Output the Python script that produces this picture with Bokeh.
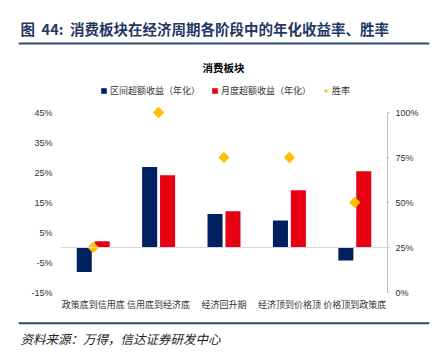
from bokeh.plotting import figure
from bokeh.layouts import column
from bokeh.models import (ColumnDataSource, FactorRange, Range1d, LinearAxis, FixedTicker,
                          PrintfTickFormatter, Span, Label, Legend, LegendItem)
from bokeh.transform import dodge
from bokeh.embed import file_html
from bokeh.resources import INLINE
import math

categories = ["政策底到信用底", "信用底到经济底", "经济回升期", "经济顶到价格顶", "价格顶到政策底"]
interval_excess = [-8.2, 26.8, 11.2, 9.0, -4.3]   # 区间超额收益（年化）, %
monthly_excess = [2.1, 24.1, 12.1, 19.1, 25.4]    # 月度超额收益（年化）, %
win_rate = [25, 100, 75, 75, 50]                   # 胜率, %
left_ticks = [-15, -5, 5, 15, 25, 35, 45]
right_ticks = [0, 25, 50, 75, 100]

BLUE = "#002060"
RED = "#E60012"
YELLOW = "#FFC000"
CJK = "Noto Sans CJK SC"
LINE = "#2E4A72"

W = 440
HEAD_H, MAIN_H, FOOT_H = 50, 266, 37
BL, BR = 18, 429    # x extent of the header/footer rules


def blank(h):
    f = figure(width=W, height=h, x_range=Range1d(0, BR - BL), y_range=Range1d(0, h),
               x_axis_type=None, y_axis_type=None,
               output_backend="svg", toolbar_location=None, frame_align=False,
               min_border_left=BL, min_border_right=W - BR,
               min_border_top=0, min_border_bottom=0)
    f.grid.visible = False
    f.outline_line_color = None
    return f


def lab(fig, text, x, y_from_top, h, size, color="#000000", style="normal", align="left", font=CJK):
    fig.add_layout(Label(x=x - BL, y=h - y_from_top, x_units="screen", y_units="screen", text=text,
                         text_font=font, text_font_size=size, text_color=color,
                         text_font_style=style, text_align=align, text_baseline="middle"))


def hline(fig, y_from_top, h):
    fig.add_layout(Span(location=h - y_from_top, dimension="width",
                        line_color=LINE, line_width=2))


NB = "\u00a0"

# ---------- header ----------
head = blank(HEAD_H)
lab(head, "图" + NB * 2 + "44:" + NB * 2 + "消费板块在经济周期各阶段中的年化收益率、胜率",
    20, 28, HEAD_H, "14.5px", "#1F3864", "bold")
hline(head, 43, HEAD_H)

# ---------- main chart ----------
src = ColumnDataSource(dict(cat=categories, a=interval_excess, m=monthly_excess, w=win_rate))

TOP = 50            # canvas y of main figure top
FL, FR = 60, 387    # frame left/right (canvas x)
FT, FB = 55, 292    # frame top/bottom (canvas y)
PX_L = 3.0          # px per 1% on left axis
PX_R = 1.8          # px per 1% on right axis
left_top = -15 + (FB - FT) / PX_L
right_top = (FB - FT) / PX_R

p = figure(width=W, height=MAIN_H, x_range=FactorRange(*categories), y_range=Range1d(-15, left_top),
           output_backend="svg", toolbar_location=None, frame_align=False,
           min_border_left=FL, min_border_right=W - FR,
           min_border_top=FT - TOP, min_border_bottom=TOP + MAIN_H - FB)
p.outline_line_color = None
p.xgrid.grid_line_color = None
p.ygrid.grid_line_color = None

p.extra_y_ranges = {"right": Range1d(0, right_top)}

p.add_layout(Span(location=0, dimension="width", line_color="#d9d9d9", line_width=1))

r1 = p.vbar(x=dodge("cat", -0.137, range=p.x_range), top="a", bottom=0, width=0.23,
            source=src, fill_color=BLUE, line_color=None)
r2 = p.vbar(x=dodge("cat", 0.137, range=p.x_range), top="m", bottom=0, width=0.23,
            source=src, fill_color=RED, line_color=None)
r3 = p.scatter(x="cat", y="w", source=src, y_range_name="right", marker="square",
               size=8, angle=math.pi / 4, fill_color=YELLOW, line_color=None)

ya = p.yaxis[0]
ya.ticker = FixedTicker(ticks=left_ticks)
ya.formatter = PrintfTickFormatter(format="%d%%")
ya.axis_line_color = None
ya.major_tick_line_color = None
ya.minor_tick_line_color = None
ya.major_tick_out = 0
ya.major_label_standoff = 8
ya.major_label_text_font = "Liberation Sans"
ya.major_label_text_font_size = "9px"
ya.major_label_text_color = "#333333"

ry = LinearAxis(y_range_name="right", ticker=FixedTicker(ticks=right_ticks),
                formatter=PrintfTickFormatter(format="%d%%"), bounds=(0, 100))
ry.axis_line_color = "#bfbfbf"
ry.major_tick_line_color = "#bfbfbf"
ry.minor_tick_line_color = None
ry.major_tick_in = 0
ry.major_tick_out = 2
ry.major_label_standoff = 6
ry.major_label_text_font = "Liberation Sans"
ry.major_label_text_font_size = "9px"
ry.major_label_text_color = "#333333"
p.add_layout(ry, "right")

xa = p.xaxis[0]
xa.axis_line_color = None
xa.major_tick_line_color = None
xa.minor_tick_line_color = None
xa.major_tick_out = 0
xa.major_label_standoff = 5
xa.major_label_text_font = CJK
xa.major_label_text_font_size = "9px"
xa.major_label_text_color = "#333333"

legend = Legend(items=[LegendItem(label="区间超额收益（年化）", renderers=[r1]),
                       LegendItem(label="月度超额收益（年化）", renderers=[r2]),
                       LegendItem(label="胜率", renderers=[r3])],
                orientation="horizontal", location=(100 - FL, FB - 92 - 5),
                glyph_width=7, glyph_height=7, label_standoff=3, spacing=11,
                padding=0, margin=0, border_line_color=None, background_fill_alpha=0,
                label_text_font=CJK, label_text_font_size="9px", label_text_color="#333333",
                label_height=10)
p.add_layout(legend, "center")

p.add_layout(Label(x=223 - FL, y=FB - 67, x_units="screen", y_units="screen", text="消费板块",
                   text_font=CJK, text_font_size="10.5px", text_font_style="bold",
                   text_color="#000000", text_align="center", text_baseline="middle"))

# ---------- footer ----------
foot = blank(FOOT_H)
hline(foot, 322.7 - (HEAD_H + MAIN_H), FOOT_H)
lab(foot, "资料来源：万得，信达证券研发中心", 20, 338 - (HEAD_H + MAIN_H), FOOT_H, "12.5px", "#222222", "italic")

layout = column(head, p, foot, spacing=0)
open("out.html", "w").write(file_html(layout, INLINE))
